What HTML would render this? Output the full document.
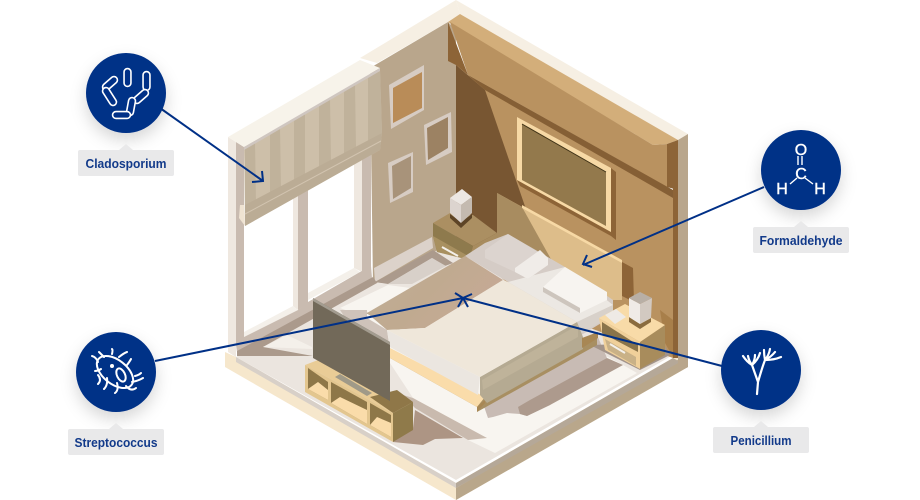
<!DOCTYPE html>
<html><head><meta charset="utf-8"><style>html,body{margin:0;padding:0;background:#fff}svg{display:block}text{font-family:"Liberation Sans",sans-serif}</style></head><body>
<svg width="920" height="500" viewBox="0 0 920 500" xmlns="http://www.w3.org/2000/svg">
<defs>
<filter id="s" x="-40%" y="-40%" width="180%" height="190%"><feDropShadow dx="0" dy="7" stdDeviation="8" flood-color="#000" flood-opacity=".16"/></filter>
<linearGradient id="throw" x1="0" y1="0" x2="1" y2="0.5"><stop offset="0" stop-color="#bfae96"/><stop offset=".55" stop-color="#c0aa90"/><stop offset="1" stop-color="#c6a995"/></linearGradient>
</defs>
<!-- floor plate -->
<polygon points="225,352 236,357 456,483 673,358 688,350 688,367 456,500 225,367" fill="#f6e7cc"/>
<polygon points="456,488 688,354 688,367 456,500" fill="#b9a78b"/>
<polygon points="236,357 456,483 456,488 236,362" fill="#d8d0c8"/>
<polygon points="456,483 673,358 680,362 456,488" fill="#b5a898"/>
<polygon points="236,357 373,280 456,232 673,355 456,480" fill="#ebe5df"/>
<!-- back-left wall -->
<polygon points="360,58 456,0 460,14 448,22 377,63" fill="#f6efe3"/>
<polygon points="370,68 448,22 456,30 456,240 373,285" fill="#b9a68c"/>
<polygon points="374,268 432,237 433,248 375,282" fill="#dcd2ca"/>
<polygon points="375,282 433,250 453,263 445,266 432,258 388,284" fill="#ab9a8c"/>
<polygon points="388,284 432,258 446,266 412,284" fill="#d8d0c9"/>
<!-- top rim and right wall -->
<polygon points="456,0 688,134 678,140 460,14" fill="#f6efe3"/>
<polygon points="678,140 688,134 688,367 678,372" fill="#b9a68c"/>
<polygon points="456,65 468,75 667,187 673,190 673,358 540,310 456,240" fill="#b99260"/>
<polygon points="673,143 678,140 678,358 673,358" fill="#8d6437"/>
<polygon points="448,22 460,14 678,140 667,144 653,145" fill="#d3ae7a"/>
<polygon points="450,22 653,145 667,144 667,187 468,75" fill="#b99260"/>
<polygon points="667,144 678,140 678,190 667,187" fill="#8d6437"/>
<polygon points="448,22 468,75 456,65 448,61" fill="#8d6437"/>
<polygon points="468,75 673,190 673,198 485,90" fill="#855f35"/>
<polygon points="456,65 485,90 540,250 530,290 456,240" fill="#785632"/>
<!-- wall picture -->
<polygon points="611,168 616,172 616,240 611,236 520,186 517,180 611,232" fill="#8d6437"/>
<polygon points="517,117 611,168 611,232 517,180" fill="#f7d9a5"/>
<polygon points="522,124 606,172 606,226 522,180" fill="#93794c"/>
<polyline points="522,124 606,172" fill="none" stroke="#3f3216" stroke-width="1"/>
<!-- small frames -->
<polygon points="389,85 424,65 424,110 391,129" fill="#d7ccc3"/>
<polygon points="393,88 422,72 422,108 393,123" fill="#b98c58"/>
<polygon points="424,125 451,112 452,152 426,165" fill="#d7ccc3"/>
<polygon points="427,128 448,117 448,148 428,160" fill="#9c8263"/>
<polygon points="388,163 413,152 413,192 390,203" fill="#d7ccc3"/>
<polygon points="392,166 411,156 411,188 393,199" fill="#a8937a"/>
<!-- window panes and frame -->
<polygon points="244,226 293,197 293,306 244,332" fill="#fff"/>
<polygon points="308,190 354,163 354,268 308,293" fill="#fff"/>
<polygon points="228,137 236,142 236,357 228,352" fill="#efe8e0"/>
<polygon points="236,142 244,147 244,338 236,345" fill="#c9bbb0"/>
<polygon points="293,190 298,190 298,310 293,306" fill="#efe8e0"/>
<polygon points="298,185 308,185 308,303 298,310" fill="#c9bbb0"/>
<polygon points="354,150 362,150 362,272 354,268" fill="#efe8e0"/>
<polygon points="362,150 371,150 371,272 362,272" fill="#c9bbb0"/>
<polygon points="244,332 293,306 298,310 244,337" fill="#f4f0ea"/>
<polygon points="308,293 354,268 360,272 308,300" fill="#f4f0ea"/>
<polygon points="236,345 244,337 298,310 308,302 360,272 371,266 372,278 237,352" fill="#c9bbb0"/>
<polygon points="237,356 237,351 373,277 377,283 263,347 313,356" fill="#ab9a8c"/>
<polygon points="263,347 287,335 312,347 312,349" fill="#f4f0ea"/>
<polygon points="287,335 313,320 313,347" fill="#ebe5df"/>
<!-- rug and floor shadows -->
<polygon points="340,308 388,285 500,300 623,365 637,373 495,453 468,440 413,398 390,363 367,318" fill="#f8f5f0"/>
<polygon points="340,310 367,310 367,318 387,330 390,350 360,340" fill="#cfc3ba"/>
<polyline points="367,313 400,330" fill="none" stroke="#a89a86" stroke-width="1.2"/>
<polygon points="403,395 413,398 487,438 468,440 415,408" fill="#c9baae"/>
<polygon points="393,442 423,445 435,439 463,438 415,410 413,428" fill="#ad9584"/>
<polygon points="480,395 597,335 607,358 550,405 527,416 520,414 507,413 493,417 488,418" fill="#c8bbb4"/>
<polygon points="518,407 530,400 607,358 623,365 550,405 527,416 520,414" fill="#ad9a8d"/>
<polygon points="590,345 663,343 670,355 640,370" fill="#a3948a"/>
<!-- headboard -->
<polygon points="622,262 633,268 634,302 622,296" fill="#8d6437"/>
<polygon points="497,193 622,262 622,300 560,300 497,250" fill="#ddbd8a"/>
<polygon points="497,193 522,207 557,270 497,260" fill="#a88c60"/>
<polygon points="522,205 622,260 622,263 522,208" fill="#f7d9a5"/>
<!-- left nightstand -->
<polygon points="433,223 450,213 473,215 497,233 473,246" fill="#ab8f62"/>
<polygon points="433,223 473,246 470,257 461,257 437,252 433,236" fill="#8e7a4d"/>
<polygon points="433,236 470,257 461,258 437,252" fill="#a89060"/>
<polyline points="442,247 458,256" stroke="#f4f0ea" stroke-width="2" fill="none"/>
<polygon points="473,246 497,233 497,240 470,257" fill="#a88c5f"/>
<polygon points="450,214 461,222 472,214 472,218 461,228 450,218" fill="#5d4426"/>
<polygon points="450,198 461,205 461,223 450,213" fill="#dcd4cf"/>
<polygon points="461,205 472,197 472,213 461,223" fill="#c4bab0"/>
<polygon points="450,198 462,189 472,197 461,205" fill="#ece7e3"/>
<!-- mattress back -->
<polygon points="465,256 485,243 508,234 565,267 613,300 613,316 578,337 508,282" fill="#d5ccc6"/>
<polygon points="508,282 565,267 613,305 577,322" fill="#ece8e3"/>
<polygon points="577,322 613,305 613,315 578,335" fill="#d8d1ca"/>
<!-- pillows -->
<polygon points="485,250 508,234 548,258 548,265 528,279 515,272 485,258" fill="#dcd4cf"/>
<polygon points="515,268 540,250 548,258 548,265 528,279 515,272" fill="#f0ece8"/>
<polygon points="543,287 565,267 607,292 607,300 580,313 543,292" fill="#f7f4f0"/>
<polygon points="543,287 580,308 580,313 543,292" fill="#cdc5bd"/>
<!-- bed base -->
<polygon points="390,358 477,407 477,412 597,345 597,337 487,400 390,352" fill="#a88f62"/>
<polygon points="390,348 485,397 477,407 390,358" fill="#fadcaa"/>
<polygon points="477,407 485,400 485,403 477,412" fill="#a88754"/>
<polygon points="480,377 577,322 583,337 583,349 487,403 480,395" fill="#b5aa92"/>
<polygon points="482,380 578,325 578,337 483,390" fill="#bfb39a"/>
<polygon points="582,338 598,332 598,338 582,348" fill="#a88754"/>
<polygon points="387,330 480,377 478,395 390,347" fill="#ebe6e0"/>
<!-- blanket -->
<polygon points="367,313 465,256 503,280 425,328 387,330" fill="url(#throw)"/>
<polygon points="387,330 425,328 503,280 508,282 577,322 480,377" fill="#efe7da"/>
<!-- right nightstand -->
<polygon points="660,310 673,320 673,357 665,343" fill="#a87f4a"/>
<polygon points="599,318 640,342 640,369 605,350" fill="#f0d09a"/>
<polygon points="602,322 638,345 638,352 602,333" fill="#8a744a"/>
<polygon points="605,339 636,357 636,366 608,350" fill="#c9b187"/>
<polyline points="610,344 625,353" stroke="#f4f0ea" stroke-width="2" fill="none"/>
<polygon points="640,342 665,325 665,355 640,369" fill="#a88c5c"/>
<polygon points="599,318 625,304 665,325 640,342" fill="#f8dba8"/>
<polygon points="605,315 616,309 626,317 615,324" fill="#eeeae5"/>
<polygon points="629,317 640,324 651,318 651,322 640,329 629,322" fill="#8a6c3f"/>
<polygon points="629,298 640,304 640,324 629,317" fill="#f0ebe7"/>
<polygon points="640,304 652,298 651,318 640,324" fill="#d2c9c1"/>
<polygon points="629,298 640,292 652,298 640,304" fill="#b8afa6"/>
<!-- blind -->
<polygon points="244,147 380,70 382,133 380,150 245,226" fill="#cdbfa9"/>
<polygon points="245,147 255,141 256,205 245,212" fill="#c0b29b"/>
<polygon points="270,133 280,127 281,190 270,198" fill="#c0b29b"/>
<polygon points="294,120 305,114 305,177 294,184" fill="#c0b29b"/>
<polygon points="319,105 330,99 331,162 319,170" fill="#c0b29b"/>
<polygon points="344,91 355,85 356,148 344,156" fill="#c0b29b"/>
<polygon points="368,78 380,71 382,133 368,141" fill="#c0b29b"/>
<polygon points="245,205 382,133 380,150 245,226" fill="#bbac95"/>
<polyline points="245,214 381,141" fill="none" stroke="#d2c4b0" stroke-width="1"/>
<polygon points="240,205 244,205 245,226 239,218" fill="#efe3d2"/>
<!-- window header -->
<polygon points="228,137 360,60 380,68 244,147" fill="#f7f3ea"/>
<polygon points="244,147 380,68 380,71 244,150" fill="#cfc6c0"/>
<!-- TV unit -->
<polygon points="305,365 318,360 413,402 393,413" fill="#e9cc96"/>
<polygon points="370,397 397,390 413,402 393,413" fill="#8f7748"/>
<polygon points="305,365 393,413 393,442 305,392" fill="#e3c68f"/>
<polygon points="393,413 413,402 413,430 393,442" fill="#8f7a4a"/>
<polygon points="308,368 328,382 328,400 308,389" fill="#8e7748"/>
<polygon points="308,389 318,382 328,390 328,400" fill="#fadcaa"/>
<polygon points="331,382 367,402 367,424 331,403" fill="#8e7748"/>
<polygon points="331,403 340,397 367,410 367,424" fill="#fadcaa"/>
<polygon points="370,403 391,415 391,437 370,425" fill="#8e7748"/>
<polygon points="370,425 377,417 391,423 391,437" fill="#fadcaa"/>
<polygon points="313,298 390,342 390,401 313,358" fill="#726959"/>
<polygon points="313,298 390,342 390,345 313,301" fill="#a39c90"/>
<polygon points="335,377 340,374 372,393 367,396" fill="#a09a88"/>
<!-- connectors -->
<g fill="none" stroke="#003087" stroke-width="2">
<path d="M160,108 L263,181 M252,182 L263,181 L262,171"/>
<path d="M764,187 L583,265 M592,267 L583,264 L587,255"/>
<path d="M155,361 L463,298 M455,293 L463,298 L458,307"/>
<path d="M722,366 L463,298 M472,294 L463,298 L468,307"/>
</g>
<!-- nodes -->
<g fill="#003087" filter="url(#s)">
<circle cx="126" cy="93" r="40"/>
<circle cx="116" cy="372" r="40"/>
<circle cx="801" cy="170" r="40"/>
<circle cx="761" cy="370" r="40"/>
</g>
<!-- labels -->
<g fill="#e9e9ea">
<path d="M80,150H119L126,144L133,150H172a2,2 0 0 1 2,2V174a2,2 0 0 1 -2,2H80a2,2 0 0 1 -2,-2V152a2,2 0 0 1 2,-2Z"/>
<path d="M70,429H109L116,423L123,429H162a2,2 0 0 1 2,2V453a2,2 0 0 1 -2,2H70a2,2 0 0 1 -2,-2V431a2,2 0 0 1 2,-2Z"/>
<path d="M755,227H794L801,221L808,227H847a2,2 0 0 1 2,2V251a2,2 0 0 1 -2,2H755a2,2 0 0 1 -2,-2V229a2,2 0 0 1 2,-2Z"/>
<path d="M715,427H754L761,421L768,427H807a2,2 0 0 1 2,2V451a2,2 0 0 1 -2,2H715a2,2 0 0 1 -2,-2V429a2,2 0 0 1 2,-2Z"/>
</g>
<g fill="#123a8a" font-size="13" font-weight="700" text-anchor="middle">
<text x="126" y="168" textLength="81" lengthAdjust="spacingAndGlyphs">Cladosporium</text>
<text x="116" y="447" textLength="83" lengthAdjust="spacingAndGlyphs">Streptococcus</text>
<text x="801" y="245" textLength="83" lengthAdjust="spacingAndGlyphs">Formaldehyde</text>
<text x="761" y="445" textLength="61" lengthAdjust="spacingAndGlyphs">Penicillium</text>
</g>
<!-- icon: cladosporium -->
<g fill="none" stroke-linecap="round">
<path d="M127.5,72V83" stroke="#fff" stroke-width="8.5"/><path d="M127.5,72V83" stroke="#003087" stroke-width="5.3"/>
<path d="M114,80L106,87" stroke="#fff" stroke-width="8.5"/><path d="M114,80L106,87" stroke="#003087" stroke-width="5.3"/>
<path d="M106,91L113,102" stroke="#fff" stroke-width="8.5"/><path d="M106,91L113,102" stroke="#003087" stroke-width="5.3"/>
<path d="M146.5,75V87" stroke="#fff" stroke-width="8.5"/><path d="M146.5,75V87" stroke="#003087" stroke-width="5.3"/>
<path d="M145,93L137,100" stroke="#fff" stroke-width="8.5"/><path d="M145,93L137,100" stroke="#003087" stroke-width="5.3"/>
<path d="M132,101L130,112" stroke="#fff" stroke-width="8.5"/><path d="M132,101L130,112" stroke="#003087" stroke-width="5.3"/>
<path d="M116,115H127" stroke="#fff" stroke-width="8.5"/><path d="M116,115H127" stroke="#003087" stroke-width="5.3"/>
</g>
<!-- icon: streptococcus -->
<g fill="none" stroke="#fff" stroke-width="2" stroke-linecap="round" stroke-linejoin="round">
<ellipse cx="115" cy="372" rx="21" ry="12" transform="rotate(38 115 372)"/>
<ellipse cx="121" cy="375" rx="4" ry="7" transform="rotate(-25 121 375)"/>
<path d="M98,362Q96,357 92,356M104,357Q101,354 99,352M112,354Q113,350 112,349M119,357Q124,353 127,352M127,365Q130,361 131,359M135,376Q139,375 141,373M132,382Q138,381 143,378M126,386Q131,392 136,388M117,383Q119,390 115,393M107,378Q108,385 104,389M101,369Q98,371 95,371M98,375Q102,380 98,384"/>
</g>
<circle cx="112" cy="366" r="2" fill="#fff"/>
<!-- icon: formaldehyde -->
<g fill="#fff" stroke="#fff" stroke-width=".4" font-size="16" text-anchor="middle">
<text x="801" y="155">O</text>
<text x="801" y="179">C</text>
<text x="782" y="194">H</text>
<text x="820" y="194">H</text>
</g>
<path d="M798,156V165M802,156V165M790,184L797,178M805,178L813,184" stroke="#fff" stroke-width="1.4" fill="none"/>
<!-- icon: penicillium -->
<g fill="none" stroke="#fff" stroke-width="2.2" stroke-linecap="round" stroke-linejoin="round">
<path d="M757,394L758,382L752,365Q747,362 743,356M752,365Q749,361 748,356M752,365Q755,360 755,355M752,365Q758,360 760,353M758,382Q762,368 765,360Q764,355 764,350M765,360Q769,355 770,349M765,360Q771,357 775,352M765,360Q774,360 781,357"/>
</g>
</svg>
</body></html>
